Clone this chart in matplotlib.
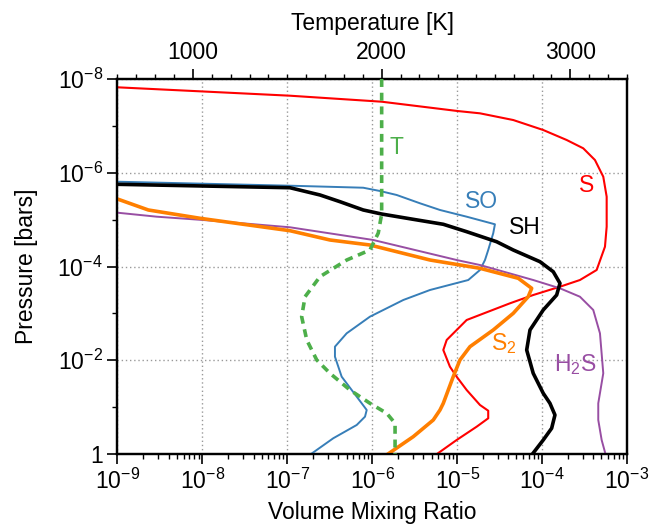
import numpy as np
import matplotlib
matplotlib.use("Agg")
import matplotlib.pyplot as plt
from matplotlib.ticker import FixedLocator, NullFormatter, FuncFormatter, LogLocator, MultipleLocator

plt.rcParams['font.family'] = ['Liberation Sans', 'DejaVu Sans']
plt.rcParams['mathtext.fontset'] = 'custom'
plt.rcParams['mathtext.rm'] = 'Liberation Sans'
plt.rcParams['mathtext.it'] = 'Liberation Sans:italic'
plt.rcParams['mathtext.bf'] = 'Liberation Sans:bold'

# ---- species profiles: log10(volume mixing ratio) vs log10(pressure / bar) ----
S_logx = [-9.0, -6.969, -5.889, -4.994, -4.731, -4.339, -3.986, -3.710, -3.515, -3.377,
          -3.279, -3.239, -3.239, -3.259, -3.357, -3.554, -3.789, -4.104, -4.378, -4.888,
          -5.123, -5.163, -5.085, -5.006, -4.888, -4.731, -4.634, -4.634, -4.770, -5.006,
          -5.238]
S_logp = [-7.823, -7.644, -7.516, -7.317, -7.268, -7.125, -6.912, -6.699, -6.522, -6.272,
          -5.916, -5.489, -4.849, -4.423, -3.926, -3.712, -3.569, -3.392, -3.215, -2.859,
          -2.433, -2.219, -1.863, -1.650, -1.366, -1.046, -0.924, -0.762, -0.583, -0.299,
          0.0]

SH_logx = [-9.0, -6.969, -6.615, -6.380, -6.106, -5.889, -5.517, -5.163, -4.888, -4.535,
           -4.339, -4.025, -3.868, -3.789, -3.828, -3.986, -4.142, -4.181, -4.104, -3.986,
           -3.907, -3.848, -3.887, -3.986, -4.113]
SH_logp = [-5.754, -5.681, -5.526, -5.383, -5.206, -5.120, -5.007, -4.901, -4.743, -4.529,
           -4.352, -4.103, -3.889, -3.642, -3.392, -3.073, -2.646, -2.219, -1.722, -1.296,
           -1.082, -0.833, -0.549, -0.299, 0.0]

SO_logx = [-9.0, -6.969, -6.106, -5.909, -5.712, -5.438, -5.202, -4.888, -4.555, -4.575,
           -4.634, -4.672, -4.731, -4.869, -5.320, -5.634, -6.027, -6.301, -6.439, -6.439,
           -6.360, -6.242, -6.124, -6.065, -6.085, -6.183, -6.459, -6.721]
SO_logp = [-5.809, -5.724, -5.681, -5.611, -5.526, -5.349, -5.206, -5.063, -4.901, -4.709,
           -4.352, -4.139, -3.926, -3.712, -3.499, -3.286, -2.930, -2.575, -2.290, -2.076,
           -1.650, -1.366, -1.082, -0.939, -0.797, -0.619, -0.336, 0.0]

S2_logx = [-9.0, -8.637, -8.029, -6.969, -6.498, -6.027, -5.320, -4.731, -4.280, -4.122,
           -4.163, -4.339, -4.575, -4.849, -4.967, -5.046, -5.163, -5.202, -5.281, -5.517,
           -5.815]
S2_logp = [-5.440, -5.206, -5.029, -4.764, -4.566, -4.459, -4.139, -3.962, -3.749, -3.535,
           -3.356, -3.002, -2.646, -2.290, -2.006, -1.650, -1.082, -0.939, -0.726, -0.370,
           0.0]

H2S_logx = [-9.0, -8.538, -7.990, -6.969, -5.988, -5.006, -4.731, -4.104, -3.789, -3.554,
            -3.397, -3.318, -3.279, -3.338, -3.338, -3.298, -3.253]
H2S_logp = [-5.148, -5.063, -4.992, -4.837, -4.566, -4.139, -4.032, -3.712, -3.535, -3.356,
            -3.073, -2.575, -1.722, -1.082, -0.726, -0.299, 0.0]

# ---- temperature profile [K] vs log10(pressure / bar) ----
T_K = [2000, 2000, 1982, 1938, 1815, 1673, 1594, 1576, 1603, 1656, 1726, 1832, 1938,
       2027, 2071, 2071]
T_logp = [-8.0, -5.120, -4.714, -4.352, -4.139, -3.783, -3.356, -2.930, -2.433, -2.006,
          -1.722, -1.366, -1.082, -0.869, -0.655, 0.0]

species = [
    ("S", S_logx, S_logp, "#ff0000", 1.5),
    ("SO", SO_logx, SO_logp, "#377eb8", 1.4),
    ("H$_2$S", H2S_logx, H2S_logp, "#984ea3", 1.4),
    ("S$_2$", S2_logx, S2_logp, "#ff7f00", 2.6),
    ("SH", SH_logx, SH_logp, "#000000", 2.6),
]

# label anchor points (log10 VMR, log10 P)
labels = {
    "T": (-5.712, -6.543, "#4daf4a"),
    "SO": (-4.711, -5.383, "#377eb8"),
    "SH": (-4.201, -4.822, "#000000"),
    "S": (-3.475, -5.718, "#ff0000"),
    "S$_2$": (-4.457, -2.362, "#ff7f00"),
    "H$_2$S": (-3.612, -1.899, "#984ea3"),
}

fig = plt.figure(figsize=(6.52, 5.25), dpi=100)
ax = fig.add_axes([0.1802, 0.1352, 0.7814, 0.7143])

for name, lx, lp, col, lw in species:
    ax.plot(10.0 ** np.array(lx), 10.0 ** np.array(lp), color=col, lw=lw, zorder=3)

ax.set_xscale('log')
ax.set_yscale('log')
ax.set_xlim(1e-9, 1e-3)
ax.set_ylim(1.0, 1e-8)

# x ticks
ax.xaxis.set_major_locator(LogLocator(base=10, numticks=20))
ax.xaxis.set_minor_locator(LogLocator(base=10, subs=np.arange(2, 10), numticks=20))
ax.xaxis.set_minor_formatter(NullFormatter())
ax.xaxis.set_major_formatter(FuncFormatter(lambda v, p: r'$10^{%d}$' % round(np.log10(v))))

# y ticks
ymaj = [1e-8, 1e-6, 1e-4, 1e-2, 1.0]
ymin = [1e-7, 1e-5, 1e-3, 1e-1]
ax.yaxis.set_major_locator(FixedLocator(ymaj))
ax.yaxis.set_minor_locator(FixedLocator(ymin))
ax.yaxis.set_minor_formatter(NullFormatter())


def yfmt(v, p):
    e = int(round(np.log10(v)))
    return '1' if e == 0 else r'$10^{%d}$' % e


ax.yaxis.set_major_formatter(FuncFormatter(yfmt))

ax.tick_params(which='major', direction='out', length=7, width=1.2, labelsize=16.5,
               top=False, right=False)
ax.tick_params(which='minor', direction='out', length=3.5, width=1.0, top=False, right=False)
for sp in ax.spines.values():
    sp.set_linewidth(1.6)

ax.grid(True, which='major', color='#999999', linestyle=(0, (1, 2)), lw=1.0, zorder=1)

ax.set_xlabel('Volume Mixing Ratio', fontsize=16.5, labelpad=5)
ax.set_ylabel('Pressure [bars]', fontsize=16.5, labelpad=14)

# temperature on top axis
ax2 = ax.twiny()
ax2.plot(T_K, 10.0 ** np.array(T_logp), color='#4daf4a', lw=2.6, ls=(0, (2.2, 1.6)), zorder=4)
ax2.set_xlim(600, 3300)
ax2.set_ylim(1.0, 1e-8)
ax2.xaxis.set_major_locator(MultipleLocator(1000))
ax2.xaxis.set_minor_locator(MultipleLocator(100))
ax2.tick_params(which='major', direction='out', length=7, width=1.2, labelsize=16.5)
ax2.tick_params(which='minor', direction='out', length=3.5, width=1.0)
for sp in ax2.spines.values():
    sp.set_linewidth(1.6)
ax2.set_xlabel('Temperature [K]', fontsize=16.5, labelpad=8)

for txt, (lx, lp, col) in labels.items():
    ax.text(10.0 ** lx, 10.0 ** lp, txt, color=col, fontsize=16.5,
            ha='center', va='center', zorder=5)

fig.savefig('out.png', dpi=100)
